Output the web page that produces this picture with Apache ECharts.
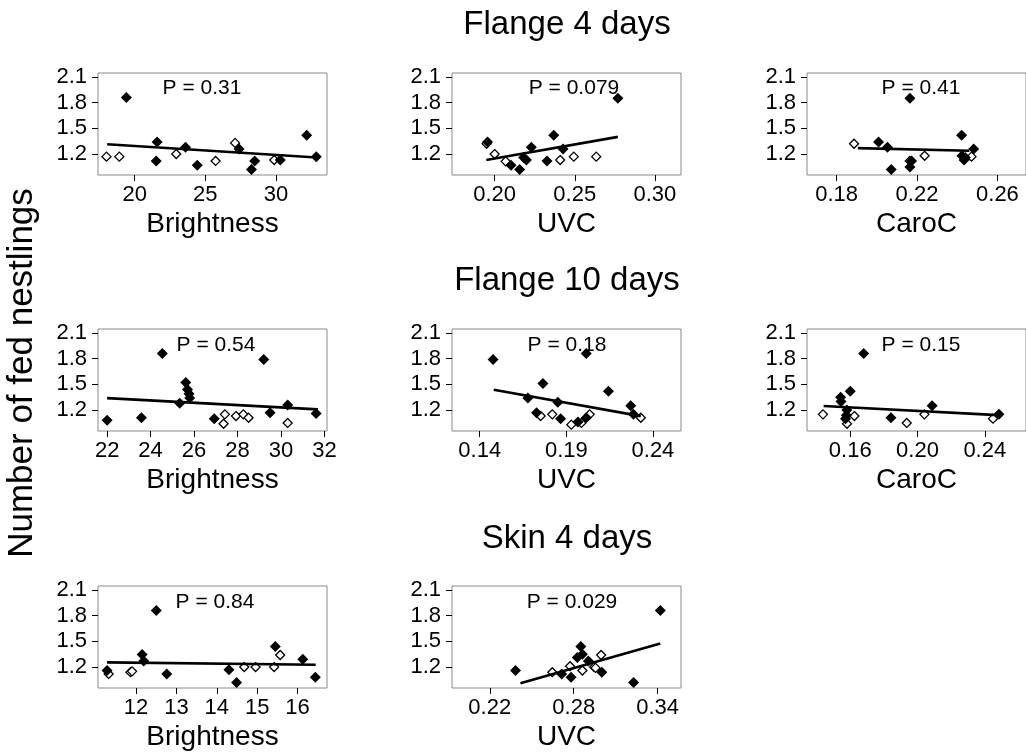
<!DOCTYPE html>
<html><head><meta charset="utf-8">
<script src="https://cdn.jsdelivr.net/npm/echarts@6/dist/echarts.min.js"></script>
<style>html,body{margin:0;padding:0;background:#fff}#c{width:1026px;height:753px}</style>
</head><body><div id="c"></div><script>
// ---------- data ----------
const rowTitles = ["Flange 4 days", "Flange 10 days", "Skin 4 days"];
const yAxisTitle = "Number of fed nestlings";
const xNames = ["Brightness", "UVC", "CaroC", "Brightness", "UVC", "CaroC", "Brightness", "UVC"];
const pLabels = ["P = 0.31", "P = 0.079", "P = 0.41", "P = 0.54", "P = 0.18", "P = 0.15", "P = 0.84", "P = 0.029"];
const yTickLabels = ["1.2", "1.5", "1.8", "2.1"];
const yLimits = [0.956, 2.144];
const xTickLabels = [
  ["20", "25", "30"], ["0.20", "0.25", "0.30"], ["0.18", "0.22", "0.26"],
  ["22", "24", "26", "28", "30", "32"], ["0.14", "0.19", "0.24"], ["0.16", "0.20", "0.24"],
  ["12", "13", "14", "15", "16"], ["0.22", "0.28", "0.34"]
];
const xLimits = [
  [17.4, 33.62], [0.1734, 0.3163], [0.1653, 0.2742],
  [21.58, 32.12], [0.124, 0.2562], [0.1343, 0.2645],
  [11.056, 16.73], [0.193, 0.3567]
];

// filled diamonds
const filled1 = [[19.41,1.86],[21.59,1.34],[21.52,1.12],[23.6,1.28],[24.43,1.07],[27.39,1.26],[28.5,1.12],[28.27,1.02],[30.31,1.13],[32.18,1.42],[32.86,1.17]];
const filled2 = [[0.1956,1.34],[0.2102,1.07],[0.2156,1.02],[0.2181,1.16],[0.2198,1.13],[0.2229,1.28],[0.2327,1.12],[0.2369,1.42],[0.2427,1.26],[0.2769,1.85]];
const filled3 = [[0.2165,1.85],[0.2009,1.34],[0.2053,1.28],[0.2072,1.02],[0.2165,1.05],[0.2173,1.12],[0.2422,1.42],[0.2423,1.18],[0.2434,1.13],[0.244,1.16],[0.2482,1.26]];
const filled4 = [[22.0,1.08],[23.58,1.11],[24.54,1.86],[25.34,1.28],[25.62,1.52],[25.7,1.44],[25.77,1.39],[25.8,1.34],[26.93,1.10],[29.21,1.79],[29.5,1.17],[30.31,1.26],[31.62,1.16]];
const filled5 = [[0.1477,1.79],[0.1765,1.51],[0.1678,1.34],[0.1728,1.17],[0.1851,1.29],[0.1867,1.10],[0.2015,1.86],[0.1967,1.06],[0.2015,1.11],[0.2143,1.42],[0.2272,1.25],[0.2287,1.15]];
const filled6 = [[0.168,1.86],[0.1543,1.35],[0.1545,1.30],[0.16,1.42],[0.1572,1.10],[0.1577,1.14],[0.158,1.2],[0.1842,1.11],[0.2087,1.25],[0.2484,1.15]];
const filled7 = [[11.28,1.16],[12.15,1.345],[12.19,1.27],[12.5,1.86],[12.76,1.12],[14.3,1.17],[14.49,1.02],[15.45,1.44],[16.13,1.29],[16.44,1.08]];
const filled8 = [[0.2384,1.16],[0.2714,1.12],[0.2781,1.08],[0.2826,1.31],[0.2851,1.44],[0.2862,1.35],[0.2905,1.27],[0.3001,1.14],[0.3228,1.02],[0.3419,1.86]];

// open diamonds
const open1 = [[18.0,1.17],[18.91,1.17],[22.94,1.2],[25.73,1.12],[27.11,1.33],[29.88,1.13]];
const open2 = [[0.195,1.32],[0.20,1.2],[0.2069,1.115],[0.2409,1.13],[0.2494,1.17],[0.2634,1.17]];
const open3 = [[0.1887,1.32],[0.2164,1.12],[0.2238,1.18],[0.2471,1.17]];
const open4 = [[27.42,1.15],[27.36,1.04],[27.93,1.13],[28.27,1.15],[28.51,1.11],[30.31,1.05]];
const open5 = [[0.1752,1.13],[0.1819,1.15],[0.1929,1.03],[0.1987,1.05],[0.2035,1.15],[0.233,1.11]];
const open6 = [[0.1438,1.15],[0.1581,1.04],[0.1625,1.13],[0.1936,1.05],[0.2041,1.15],[0.2449,1.10]];
const open7 = [[11.32,1.12],[11.86,1.14],[11.9,1.15],[14.68,1.2],[14.96,1.2],[15.42,1.2],[15.57,1.34]];
const open8 = [[0.2647,1.14],[0.2774,1.21],[0.2862,1.16],[0.2946,1.2],[0.2996,1.34],[0.2956,1.19]];

// fitted regression lines (end points)
const fit1 = [[18.05,1.315],[32.88,1.16]];
const fit2 = [[0.1948,1.131],[0.2769,1.40]];
const fit3 = [[0.1906,1.269],[0.246,1.238]];
const fit4 = [[22.0,1.339],[31.7,1.208]];
const fit5 = [[0.1481,1.437],[0.233,1.129]];
const fit6 = [[0.1442,1.247],[0.2479,1.141]];
const fit7 = [[11.28,1.254],[16.45,1.227]];
const fit8 = [[0.2419,1.011],[0.3419,1.475]];

const filledSets = [filled1, filled2, filled3, filled4, filled5, filled6, filled7, filled8];
const openSets = [open1, open2, open3, open4, open5, open6, open7, open8];
const fitSets = [fit1, fit2, fit3, fit4, fit5, fit6, fit7, fit8];

// ---------- layout ----------
const FONT = "'Liberation Sans', Arial, sans-serif";
const colLeft = [98, 452, 807];
const rowTop = [73, 329, 586];
const gridW = 229, gridH = 102;
const pPos = [[202, 88], [574, 88], [921, 88], [216, 345], [567, 345], [921, 345], [215, 602], [572, 602]];
const titleY = [25, 281, 539];

const grids = [], xAxes = [], yAxes = [], series = [], graphics = [];
for (let i = 0; i < 8; i++) {
  const r = Math.floor(i / 3), c = i % 3;
  grids.push({ left: colLeft[c], top: rowTop[r], width: gridW, height: gridH,
    show: true, borderColor: '#8a8a8a', borderWidth: 1, backgroundColor: 'transparent' });
  const labels = xTickLabels[i];
  const vals = labels.map(Number);
  xAxes.push({ type: 'value', gridIndex: i, min: xLimits[i][0], max: xLimits[i][1],
    axisLine: { show: false }, splitLine: { show: false },
    axisTick: { show: true, length: 6, customValues: vals, lineStyle: { color: '#000', width: 1 } },
    axisLabel: { customValues: vals, margin: 9, color: '#000', fontSize: 22, fontFamily: FONT,
      formatter: v => { const k = vals.findIndex(t => Math.abs(t - v) < 1e-9); return k >= 0 ? labels[k] : ''; } },
    name: xNames[i], nameLocation: 'middle', nameGap: 35,
    nameTextStyle: { color: '#000', fontSize: 28, fontFamily: FONT } });
  const yv = yTickLabels.map(Number);
  yAxes.push({ type: 'value', gridIndex: i, min: yLimits[0], max: yLimits[1],
    axisLine: { show: false }, splitLine: { show: false },
    axisTick: { show: true, length: 6, customValues: yv, lineStyle: { color: '#000', width: 1 } },
    axisLabel: { customValues: yv, margin: 11, color: '#000', fontSize: 22, fontFamily: FONT,
      formatter: v => { const k = yv.findIndex(t => Math.abs(t - v) < 1e-9); return k >= 0 ? yTickLabels[k] : ''; } } });
  series.push({ type: 'scatter', xAxisIndex: i, yAxisIndex: i, data: openSets[i], symbol: 'diamond', symbolSize: 9,
    itemStyle: { color: '#fff', borderColor: '#000', borderWidth: 1.3, opacity: 1 }, silent: true, z: 2 });
  series.push({ type: 'scatter', xAxisIndex: i, yAxisIndex: i, data: filledSets[i], symbol: 'diamond', symbolSize: 11,
    itemStyle: { color: '#000', opacity: 1 }, silent: true, z: 3 });
  series.push({ type: 'line', xAxisIndex: i, yAxisIndex: i, data: fitSets[i], symbol: 'none',
    lineStyle: { color: '#000', width: 2.6 }, silent: true, z: 4 });
  graphics.push({ type: 'text', x: pPos[i][0], y: pPos[i][1], z: 10,
    style: { text: pLabels[i], fill: '#000', fontSize: 21, fontFamily: FONT, align: 'center', verticalAlign: 'middle' } });
}
rowTitles.forEach((t, r) => graphics.push({ type: 'text', x: 567, y: titleY[r],
  style: { text: t, fill: '#000', fontSize: 33, fontFamily: FONT, align: 'center', verticalAlign: 'middle' } }));
graphics.push({ type: 'text', x: 22, y: 373, rotation: Math.PI / 2,
  style: { text: yAxisTitle, fill: '#000', fontSize: 35, fontFamily: FONT, align: 'center', verticalAlign: 'middle' } });

const chart = echarts.init(document.getElementById('c'), null, { renderer: 'canvas' });
chart.setOption({ animation: false, backgroundColor: '#fff', grid: grids, xAxis: xAxes, yAxis: yAxes, series, graphic: graphics });
</script></body></html>
